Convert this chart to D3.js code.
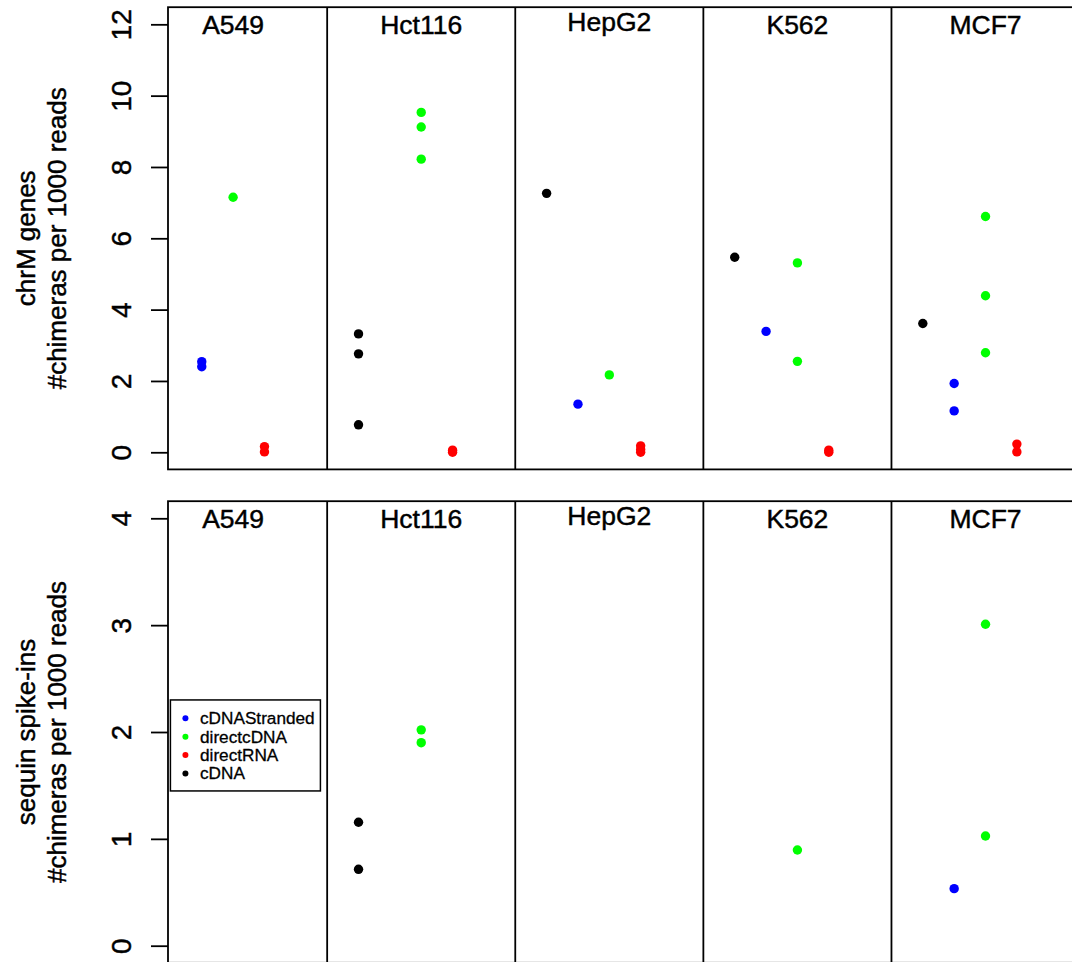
<!DOCTYPE html>
<html>
<head>
<meta charset="utf-8">
<script src="https://cdn.jsdelivr.net/npm/d3@7"></script>
<style>
  body { margin: 0; background: #fff; }
  svg { display: block; font-family: "Liberation Sans", Arial, Helvetica, sans-serif; }
  svg text { stroke: #000; stroke-width: 0.45px; }
</style>
</head>
<body>
<div id="chart"></div>
<script>
/* CONSTANTS AND GLOBALS */
const width = 1072,
  height = 962;

// cell lines (one column each) and protocols (slot order inside a column)
const cells = ["A549", "Hct116", "HepG2", "K562", "MCF7"];
const protocols = ["cDNA", "cDNAStranded", "directcDNA", "directRNA"];
const colors = ["#000000", "#0000ff", "#00ff00", "#ff0000"];
const legendOrder = ["cDNAStranded", "directcDNA", "directRNA", "cDNA"];

// top panel: chrM genes, #chimeras per 1000 reads (one list per cell line)
const chrM_cDNA         = [[], [3.32, 2.76, 0.77], [7.26], [5.47], [3.61]];
const chrM_cDNAStranded = [[2.54, 2.40], [], [1.35], [3.39], [1.93, 1.16]];
const chrM_directcDNA   = [[7.15], [9.53, 9.12, 8.22], [2.17], [5.31, 2.55], [6.61, 4.39, 2.79]];
const chrM_directRNA    = [[0.16, 0.01], [0.06, 0.0], [0.18, 0.08, 0.0], [0.06, 0.0], [0.23, 0.01]];

// bottom panel: sequin spike-ins
const sequin_cDNA         = [[], [1.155, 0.715], [], [], []];
const sequin_cDNAStranded = [[], [], [], [], [0.534]];
const sequin_directcDNA   = [[], [2.02, 1.90], [], [0.896], [3.008, 1.027]];
const sequin_directRNA    = [[], [], [], [], []];

const chrMTicks = [0, 2, 4, 6, 8, 10, 12];
const sequinTicks = [0, 1, 2, 3, 4];

const panels = [
  { title: "chrM genes", ticks: chrMTicks, top: 7.2, bottom: 469.4,
    series: [chrM_cDNA, chrM_cDNAStranded, chrM_directcDNA, chrM_directRNA], legend: false },
  { title: "sequin spike-ins", ticks: sequinTicks, top: 501.2, bottom: 962.8,
    series: [sequin_cDNA, sequin_cDNAStranded, sequin_directcDNA, sequin_directRNA], legend: true }
];

const plotLeft = 168,
  xUnit = 31.35,
  xMin = 0.923,
  xMax = 30.5;

// x positions: column c holds slots 6c+1 .. 6c+4, separators at 6c
const xScale = d3.scaleLinear()
  .domain([xMin, xMax])
  .range([plotLeft, plotLeft + (xMax - xMin) * xUnit]);

const svg = d3.select("#chart")
  .append("svg")
  .attr("width", width)
  .attr("height", height);

panels.forEach(p => {
  const ymax = d3.max(p.ticks);
  const pad = ymax * 0.04;
  const yScale = d3.scaleLinear()
    .domain([-pad, ymax + pad])
    .range([p.bottom, p.top]);

  const g = svg.append("g");

  // plot box (right edge runs off the page)
  g.append("rect")
    .attr("x", xScale(xMin))
    .attr("y", p.top)
    .attr("width", xScale(xMax) - xScale(xMin))
    .attr("height", p.bottom - p.top)
    .attr("fill", "none")
    .attr("stroke", "#000")
    .attr("stroke-width", 1.8);

  // column separators
  g.selectAll("line.sep")
    .data(d3.range(1, cells.length))
    .join("line")
    .attr("class", "sep")
    .attr("x1", c => xScale(6 * c))
    .attr("x2", c => xScale(6 * c))
    .attr("y1", p.top)
    .attr("y2", p.bottom)
    .attr("stroke", "#000")
    .attr("stroke-width", 1.8);

  // y axis, labels parallel to the axis like R
  const yAxis = d3.axisLeft(yScale)
    .tickValues(p.ticks)
    .tickFormat(d3.format("d"))
    .tickSize(17)
    .tickSizeOuter(0);

  const ax = g.append("g")
    .attr("transform", `translate(${plotLeft}, 0)`)
    .call(yAxis);
  ax.select(".domain").remove();
  ax.selectAll("line").attr("stroke", "#000").attr("stroke-width", 1.8);
  ax.selectAll("text")
    .attr("font-size", 28)
    .attr("font-family", "Liberation Sans, Arial, sans-serif")
    .attr("fill", "#000")
    .attr("text-anchor", "middle")
    .attr("transform", "rotate(-90)")
    .attr("x", 0)
    .attr("y", -37)
    .attr("dy", 0);

  // y title, two lines
  const yMid = (p.top + p.bottom) / 2;
  [[p.title, 35], ["#chimeras per 1000 reads", 65.5]].forEach(([txt, bx]) => {
    g.append("text")
      .attr("transform", `translate(${bx}, ${yMid}) rotate(-90)`)
      .attr("text-anchor", "middle")
      .attr("font-size", 26)
      .text(txt);
  });

  // cell line names at the top of each column
  g.selectAll("text.cell")
    .data(cells)
    .join("text")
    .attr("class", "cell")
    .attr("x", (d, i) => xScale(6 * i + 3))
    .attr("y", d => yScale(ymax) + 9.7 - (/[gjpqy]/.test(d) ? 3.4 : 0))
    .attr("text-anchor", "middle")
    .attr("font-size", 26.5)
    .text(d => d);

  // points
  const pts = [];
  p.series.forEach((byCell, k) => {
    byCell.forEach((vals, c) => {
      vals.forEach(v => pts.push({ cell: c, prot: k, value: v }));
    });
  });

  g.selectAll("circle.pt")
    .data(pts)
    .join("circle")
    .attr("class", "pt")
    .attr("cx", d => xScale(6 * d.cell + 1 + d.prot))
    .attr("cy", d => yScale(d.value))
    .attr("r", 4.7)
    .attr("fill", d => colors[d.prot]);

  // legend
  if (p.legend) {
    const lx = xScale(1),
      ly = yScale(2.3);
    const lg = g.append("g").attr("transform", `translate(${lx}, ${ly})`);
    lg.append("rect")
      .attr("width", 150)
      .attr("height", 91)
      .attr("fill", "#fff")
      .attr("stroke", "#000")
      .attr("stroke-width", 1.5);
    const rows = lg.selectAll("g.row")
      .data(legendOrder)
      .join("g")
      .attr("class", "row")
      .attr("transform", (d, i) => `translate(0, ${18.4 + i * 18.35})`);
    rows.append("circle")
      .attr("cx", 15)
      .attr("cy", 0)
      .attr("r", 3)
      .attr("fill", d => colors[protocols.indexOf(d)]);
    rows.append("text")
      .attr("x", 29.6)
      .attr("y", 6)
      .attr("font-size", 17.2)
      .style("stroke-width", "0.3px")
      .text(d => d);
  }
});
</script>
</body>
</html>
